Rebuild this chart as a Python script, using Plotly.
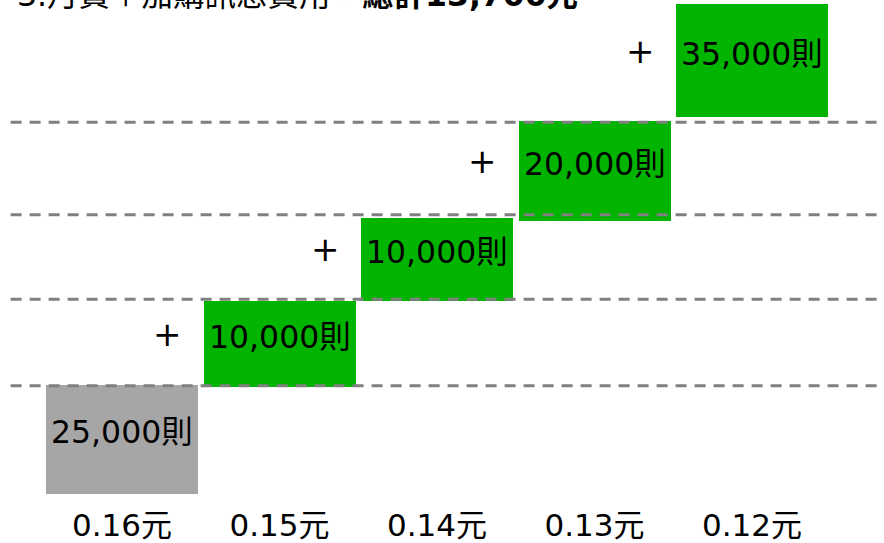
import plotly.graph_objects as go

# ---- data ----
categories = ["0.16元", "0.15元", "0.14元", "0.13元", "0.12元"]
labels = ["25,000則", "10,000則", "10,000則", "20,000則", "35,000則"]
bar_base = [0, 108, 194, 275, 379]      # visual step base (chart units)
bar_height = [110, 86, 84, 100, 114]    # visual step height (chart units)
bar_colors = ["#A6A6A6", "#00B400", "#00B400", "#00B400", "#00B400"]
show_plus = [False, True, True, True, True]
grid_levels = [109, 196, 281, 374]
title_plain = "3.月費＋加購訊息費用，"
title_bold = "總計13,700元"

FONT = "DejaVu Sans, Noto Sans CJK TC, sans-serif"

fig = go.Figure()
fig.add_trace(go.Bar(
    x=categories, y=bar_height, base=bar_base,
    marker=dict(color=bar_colors, line=dict(width=0)),
    width=0.965, hoverinfo="skip", showlegend=False,
))

# bar labels and plus signs
for i, cat in enumerate(categories):
    mid = bar_base[i] + bar_height[i] / 2
    fig.add_annotation(x=cat, y=mid, text=labels[i], showarrow=False,
                       xref="x", yref="y", yshift=7,
                       font=dict(family=FONT, size=31.5, color="black"))
    if show_plus[i]:
        fig.add_annotation(x=cat, y=mid, text="+", showarrow=False,
                           xref="x", yref="y", xshift=-112, yshift=10,
                           font=dict(family=FONT, size=34, color="black"))

# dashed horizontal guides
for lvl in grid_levels:
    fig.add_shape(type="line", xref="paper", yref="y",
                  x0=0.012, x1=0.996, y0=lvl, y1=lvl, layer="above",
                  line=dict(color="#808080", width=3, dash="11px,8px"))

# title (partly cut off at the top, as in the reference)
fig.add_annotation(xref="paper", yref="paper", x=0.017, y=0.969,
                   xanchor="left", yanchor="bottom", showarrow=False,
                   text=title_plain + "<b>" + title_bold + "</b>",
                   font=dict(family=FONT, size=31.5, color="black"))

fig.update_layout(
    width=884, height=543,
    margin=dict(l=0, r=0, t=0, b=42),
    paper_bgcolor="white", plot_bgcolor="white",
    bargap=0,
    xaxis=dict(range=[-0.7746, 4.838], showgrid=False, zeroline=False,
               showline=False, ticks="outside", ticklen=4,
               tickcolor="rgba(0,0,0,0)",
               tickfont=dict(family=FONT, size=31, color="black")),
    yaxis=dict(range=[0, 497], visible=False),
)

fig.write_html("out.html", config={"displayModeBar": False},
               post_script="document.body.style.margin='0';document.body.style.overflow='hidden';")
